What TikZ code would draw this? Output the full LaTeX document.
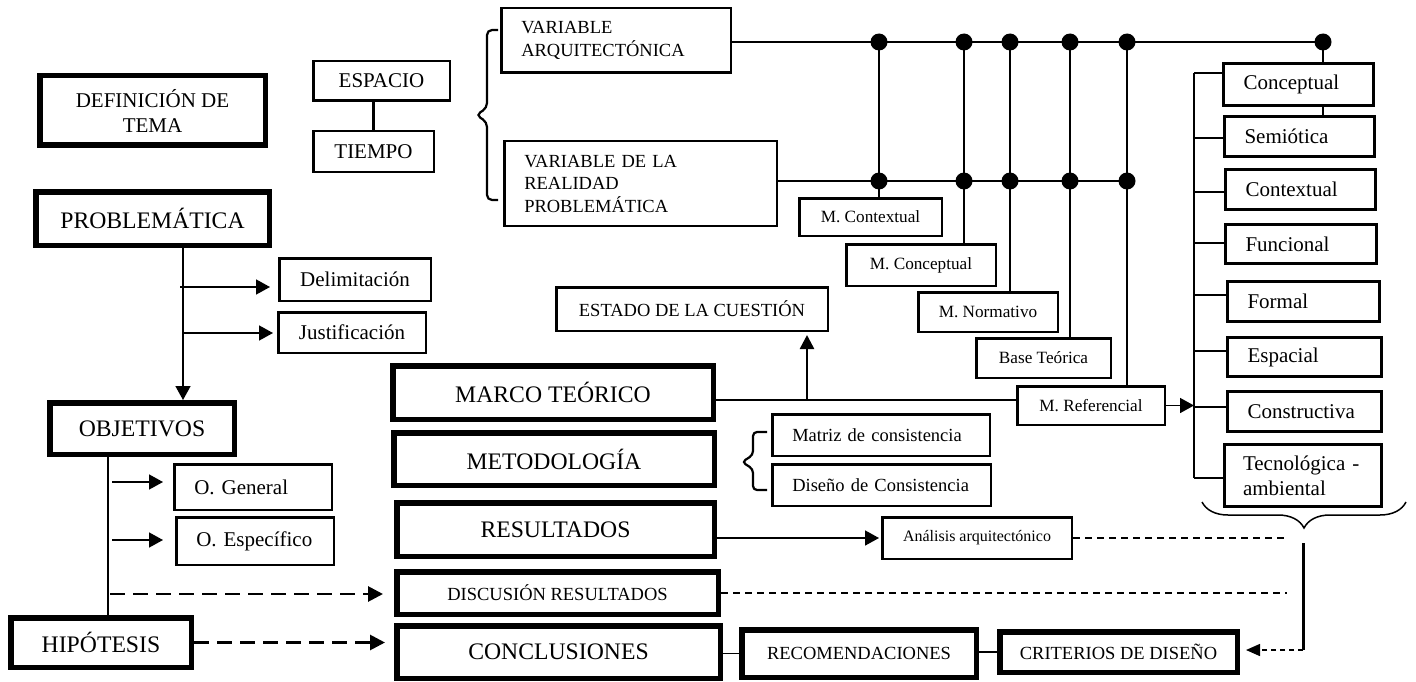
\documentclass[tikz,border=0pt]{standalone}
\usepackage{fontspec}
\setmainfont{Liberation Serif}
\usetikzlibrary{arrows.meta,decorations.pathreplacing,calc}
\newcommand\FBig{\fontsize{23.7}{27}\selectfont}
\newcommand\FMid{\fontsize{21}{25}\selectfont}
\newcommand\FVar{\fontsize{18.5}{22.5}\selectfont}
\newcommand\FSm{\fontsize{17.2}{20}\selectfont}
\newcommand\FTiny{\fontsize{16}{19}\selectfont}
\tikzset{
  bigbox/.style={draw, line width=5.5pt, inner sep=0pt, align=center, font=\FBig},
  thinbox/.style={draw, line width=2.5pt, inner sep=0pt, align=center},
  leftbox/.style={draw, line width=2.5pt, inner ysep=0pt, inner xsep=20pt, align=left, text width=#1},
  rbox/.style={draw, line width=3pt, inner ysep=0pt, inner xsep=20pt, align=left, text width=#1, font=\FMid},
  conn/.style={line width=1.6pt},
  bus/.style={line width=1.8pt},
  arr/.style={conn, -{Triangle[length=14pt,width=15pt]}},
  dasharr/.style={line width=2.8pt, dash pattern=on 15pt off 8pt, -{Triangle[length=15pt,width=15pt]}},
  thindash/.style={line width=1.4pt, dash pattern=on 7pt off 5pt},
  bracepath/.style={line width=2.2pt, rounded corners=5pt},
}
\begin{document}
\begin{tikzpicture}[x=1pt,y=-1pt]
\useasboundingbox (0,0) rectangle (1416,682);

% ---------- coordinates ----------
\coordinate (t1) at (879,42);
\coordinate (t2) at (964,42);
\coordinate (t3) at (1010,42);
\coordinate (t4) at (1070,42);
\coordinate (t5) at (1127,42);
\coordinate (t6) at (1323,42);
\coordinate (b1) at (879,181);
\coordinate (b2) at (964,181);
\coordinate (b3) at (1010,181);
\coordinate (b4) at (1070,181);
\coordinate (b5) at (1127,181);

% ---------- thick boxes ----------
\node[bigbox, minimum width=225.5pt, minimum height=69.5pt, font=\FMid] (def) at (152.5,110.5) {DEFINICIÓN DE\\TEMA};
\node[bigbox, minimum width=233.5pt, minimum height=53.5pt] (prob) at (152.5,218.5) {PROBLEMÁTICA};
\node[bigbox, minimum width=184.5pt, minimum height=51.5pt] (obj) at (142,428.5) {OBJETIVOS};
\node[bigbox, minimum width=180.5pt, minimum height=49.5pt] (hip) at (101,642.5) {HIPÓTESIS};
\node[bigbox, minimum width=320.5pt, minimum height=53.5pt] (marco) at (553,392.5) {MARCO TEÓRICO};
\node[bigbox, minimum width=320.5pt, minimum height=52.5pt] (metod) at (554,459) {METODOLOGÍA};
\node[bigbox, minimum width=317.5pt, minimum height=53.5pt] (result) at (555.5,529.5) {RESULTADOS};
\node[bigbox, minimum width=321.5pt, minimum height=42.5pt, font=\FVar] (disc) at (557.5,593) {DISCUSIÓN RESULTADOS};
\node[bigbox, minimum width=323.5pt, minimum height=52.5pt] (concl) at (558.5,652) {CONCLUSIONES};
\node[bigbox, minimum width=234.5pt, minimum height=47.5pt, font=\FVar] (recom) at (859,653.5) {RECOMENDACIONES};
\node[bigbox, minimum width=237.5pt, minimum height=40.5pt, font=\FVar] (crit) at (1118.5,652) {CRITERIOS DE DISEÑO};

% ---------- thin boxes ----------
\node[thinbox, minimum width=136.5pt, minimum height=39.5pt, font=\FMid] (esp) at (381.5,81) {ESPACIO};
\node[thinbox, minimum width=120.5pt, minimum height=40.5pt, font=\FMid] (tiem) at (373.5,151.5) {TIEMPO};
\node[leftbox=189.5pt, minimum height=64.5pt, font=\FVar] (varA) at (616,40.5) {VARIABLE\\ARQUITECTÓNICA};
\node[leftbox=232.5pt, minimum height=84.5pt, font=\FVar] (varR) at (640.5,183.5) {VARIABLE DE LA\\REALIDAD\\PROBLEMÁTICA};
\node[thinbox, minimum width=271.5pt, minimum height=43.5pt, font=\FVar] (estado) at (692,309) {ESTADO DE LA CUESTIÓN};
\node[thinbox, minimum width=151.5pt, minimum height=42.5pt, font=\FMid] (delim) at (355,279.5) {Delimitación};
\node[thinbox, minimum width=147.5pt, minimum height=40.5pt, font=\FMid] (just) at (352,332.5) {Justificación};
\node[leftbox=117.5pt, minimum height=45.5pt, font=\FMid] (ogen) at (253,487) {O. General};
\node[leftbox=117.5pt, minimum height=47.5pt, font=\FMid] (oesp) at (255,541) {O. Específico};
\node[thinbox, minimum width=142.5pt, minimum height=37.5pt, font=\FSm] (mctx) at (870.5,217) {M. Contextual};
\node[thinbox, minimum width=149.5pt, minimum height=41.5pt, font=\FSm] (mcon) at (921,265) {M. Conceptual};
\node[thinbox, minimum width=139.5pt, minimum height=39.5pt, font=\FSm] (mnor) at (988,312) {M. Normativo};
\node[thinbox, minimum width=134.5pt, minimum height=39.5pt, font=\FSm] (base) at (1043.5,358) {Base Teórica};
\node[thinbox, minimum width=147.5pt, minimum height=38.5pt, font=\FSm] (mref) at (1091,405.5) {M. Referencial};
\node[leftbox=177.5pt, minimum height=41.5pt, font=\FVar] (matriz) at (881,435) {Matriz de consistencia};
\node[leftbox=178.5pt, minimum height=41.5pt, font=\FVar] (diseno) at (881.5,485) {Diseño de Consistencia};
\node[thinbox, minimum width=189.5pt, minimum height=41.5pt, font=\FTiny] (anal) at (977,538) {Análisis arquitectónico};

% ---------- right column ----------
\node[rbox=110pt, minimum height=42pt] (r1) at (1298.5,84.5) {Conceptual};
\node[rbox=110pt, minimum height=40pt] (r2) at (1299.5,136.5) {Semiótica};
\node[rbox=110pt, minimum height=40pt] (r3) at (1300.5,189.5) {Contextual};
\node[rbox=111pt, minimum height=39pt] (r4) at (1301,244) {Funcional};
\node[rbox=112pt, minimum height=40pt] (r5) at (1303.5,301.5) {Formal};
\node[rbox=114pt, minimum height=39pt] (r6) at (1304.5,357) {Espacial};
\node[rbox=114pt, minimum height=40pt] (r7) at (1304.5,411.5) {Constructiva};
\node[rbox=120pt, inner xsep=18.5pt, minimum height=62pt] (r8) at (1303,475.5) {Tecnológica -\\ambiental};

% ---------- espacio / tiempo ----------
\draw[line width=3pt] (tiem.north) -- (tiem.north |- esp.south);

% ---------- brace round the two variables ----------
\draw[bracepath] (498,30) -- (487,30) -- (487,108) -- (476,115) -- (487,122) -- (487,200) -- (498,200);

% ---------- buses ----------
\draw[bus] (varA.east |- t1) -- (t6);
\draw[bus] (varR.east |- b1) -- (b5);
\draw[bus] (t1) -- (mctx.north -| t1);
\draw[bus] (t2) -- (mcon.north -| t2);
\draw[bus] (t3) -- (mnor.north -| t3);
\draw[bus] (t4) -- (base.north -| t4);
\draw[bus] (t5) -- (mref.north -| t5);
\draw[bus] (t6) -- (r1.north -| t6);
\draw[bus] (r1.south -| t6) -- (r2.north -| t6);
\foreach \p in {t1,t2,t3,t4,t5,t6,b1,b2,b3,b4,b5}
  \fill (\p) circle[radius=8.5pt];

% ---------- left column ----------
\coordinate (pv) at (183,0);
\draw[arr] (prob.south -| pv) -- (obj.north -| pv);
\coordinate (d0) at (180,287);
\draw[arr, shorten >=8pt] (d0) -- (delim.west |- d0);
\coordinate (j0) at (183,333);
\draw[arr, shorten >=4pt] (j0) -- (just.west |- j0);
\coordinate (ov) at (108,0);
\draw[conn] (obj.south -| ov) -- (hip.north -| ov);
\coordinate (g0) at (112,482);
\draw[arr, shorten >=10pt] (g0) -- (ogen.west |- g0);
\coordinate (e0) at (112,540);
\draw[arr, shorten >=12pt] (e0) -- (oesp.west |- e0);
\coordinate (h0) at (110,594);
\draw[dasharr, shorten >=11pt] (h0) -- (disc.west |- h0);
\draw[dasharr, shorten >=9pt] (hip.east) -- (concl.west |- hip.east);

% ---------- marco teorico ----------
\coordinate (ml) at (0,400);
\draw[line width=2pt] (marco.east |- ml) -- (mref.west |- ml);
\coordinate (ea) at (807,400);
\draw[line width=2.5pt, -{Triangle[length=14pt,width=14pt]}, shorten >=3pt] (ea) -- (estado.south -| ea);

% ---------- metodologia brace ----------
\draw[bracepath, rounded corners=4pt] (767,432) -- (753,432) -- (753,455) -- (742,462) -- (753,469) -- (753,490) -- (767,490);

% ---------- right bus ----------
\coordinate (rtop) at (1194,73);
\coordinate (rbot) at (1194,478);
\draw[conn] (rtop) -- (rbot);
\draw[arr] (mref.east) -- (mref.east -| rtop);
\coordinate (k1) at (1194,73);
\coordinate (k2) at (1194,138);
\coordinate (k3) at (1194,192);
\coordinate (k4) at (1194,243);
\coordinate (k5) at (1194,295);
\coordinate (k6) at (1194,351);
\coordinate (k7) at (1194,407);
\coordinate (k8) at (1194,478);
\draw[conn] (k1) -- (r1.west |- k1);
\draw[conn] (k2) -- (r2.west |- k2);
\draw[conn] (k3) -- (r3.west |- k3);
\draw[conn] (k4) -- (r4.west |- k4);
\draw[conn] (k5) -- (r5.west |- k5);
\draw[conn] (k6) -- (r6.west |- k6);
\draw[conn] (k7) -- (r7.west |- k7);
\draw[conn] (k8) -- (r8.west |- k8);

% ---------- bottom brace and criteria ----------
\coordinate (bl) at (1202,502);
\coordinate (br) at (1406,502);
\draw[line width=1.5pt, decorate, decoration={brace, amplitude=26pt}] (br) -- (bl);
\coordinate (v1) at (1303,543);
\coordinate (v2) at (1303,650);
\draw[line width=3pt] (v1) -- (v2);
\draw[line width=1.5pt, dash pattern=on 5pt off 4pt, -{Triangle[length=14pt,width=12pt]}, shorten >=6pt] (v2) -- (crit.east |- v2);

% ---------- resultados ----------
\draw[arr, shorten >=2pt] (result.east |- anal.west) -- (anal.west);
\coordinate (ae) at (1287,538);
\draw[thindash] (anal.east) -- (ae);
\coordinate (de) at (1287,593);
\draw[thindash] (disc.east) -- (de);

% ---------- conclusiones chain ----------
\draw[conn] (concl.east |- recom.west) -- (recom.west);
\draw[conn] (recom.east |- crit.west) -- (crit.west);
\end{tikzpicture}
\end{document}
